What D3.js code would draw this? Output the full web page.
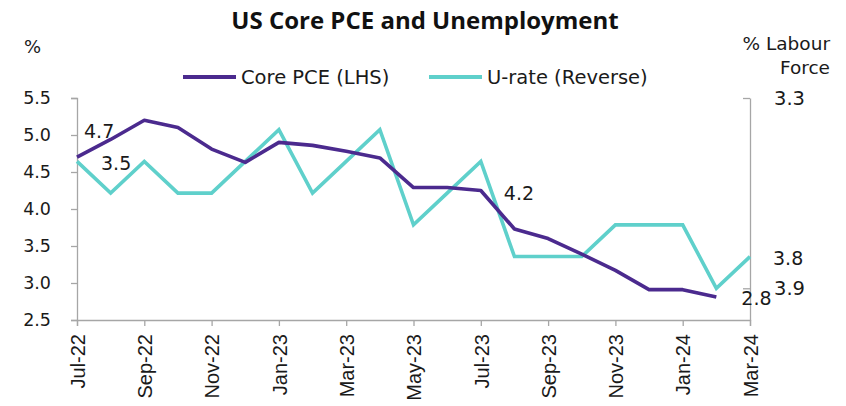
<!DOCTYPE html>
<html>
<head>
<meta charset="utf-8">
<script src="https://cdn.jsdelivr.net/npm/d3@7"></script>
<style>
  html, body { margin: 0; padding: 0; background: #fff; }
</style>
</head>
<body>
<div id="chart"></div>
<script>
// monthly data, Jul-22 .. Mar-24
const months = ["Jul-22","Aug-22","Sep-22","Oct-22","Nov-22","Dec-22","Jan-23","Feb-23","Mar-23","Apr-23",
  "May-23","Jun-23","Jul-23","Aug-23","Sep-23","Oct-23","Nov-23","Dec-23","Jan-24","Feb-24","Mar-24"];
const corePce = [4.7, 4.94, 5.2, 5.1, 4.81, 4.63, 4.9, 4.86, 4.78, 4.69,
  4.29, 4.29, 4.25, 3.73, 3.6, 3.39, 3.17, 2.91, 2.91, 2.81, null];
const uRate = [3.5, 3.6, 3.5, 3.6, 3.6, 3.5, 3.4, 3.6, 3.5, 3.4,
  3.7, 3.6, 3.5, 3.8, 3.8, 3.8, 3.7, 3.7, 3.7, 3.9, 3.8];
const leftTicks = [2.5, 3.0, 3.5, 4.0, 4.5, 5.0, 5.5];
const rightTicks = [3.3, 3.9];
const tickMonths = months.filter((_, i) => i % 2 === 0);

const width = 846, height = 406;
const margin = { top: 98, right: 96, bottom: 86, left: 77 };
const PURPLE = "#4b2a8e", CYAN = "#5fd0cb", AXIS = "#a6a6a6", INK = "#1a1a1a";
const FONT = "'DejaVu Sans'";

const svg = d3.select("#chart").append("svg")
  .attr("width", width).attr("height", height)
  .attr("font-family", FONT);

const x = d3.scalePoint().domain(months).range([margin.left, width - margin.right]);
const yL = d3.scaleLinear().domain([2.5, 5.5]).range([height - margin.bottom, margin.top]);
const yR = d3.scaleLinear().domain([3.3, 4.0]).range([margin.top, height - margin.bottom]);

// title + unit labels
svg.append("text").attr("x", 425).attr("y", 29).attr("text-anchor", "middle")
  .attr("font-family", "'Open Sans'").attr("fill", "#111")
  .style("font-size", "24px").style("font-weight", 700).text("US Core PCE and Unemployment");
svg.append("text").attr("x", 24).attr("y", 53).attr("fill", INK)
  .style("font-size", "18px").text("%");
svg.append("text").attr("x", 830).attr("y", 50).attr("text-anchor", "end").attr("fill", INK)
  .style("font-size", "18.5px").text("% Labour");
svg.append("text").attr("x", 830).attr("y", 74).attr("text-anchor", "end").attr("fill", INK)
  .style("font-size", "18.5px").text("Force");

// legend
const legend = [
  { name: "Core PCE (LHS)", color: PURPLE, x: 183 },
  { name: "U-rate (Reverse)", color: CYAN, x: 429 }
];
legend.forEach(d => {
  svg.append("line").attr("x1", d.x).attr("x2", d.x + 53).attr("y1", 77).attr("y2", 77)
    .attr("stroke", d.color).attr("stroke-width", 4);
  svg.append("text").attr("x", d.x + 58).attr("y", 84).attr("fill", INK)
    .style("font-size", "19.5px").text(d.name);
});

// axes
const axisStyle = (g, size) => {
  g.attr("font-family", FONT);
  g.selectAll(".domain, line").attr("stroke", AXIS).attr("stroke-width", 1.3);
  g.selectAll("text").style("font-size", size).attr("fill", INK);
};

svg.append("g").attr("transform", `translate(${margin.left},0)`)
  .call(d3.axisLeft(yL).tickValues(leftTicks).tickFormat(d3.format(".1f")).tickSizeOuter(0).tickSize(6).tickPadding(20))
  .call(axisStyle, "17.5px");

svg.append("g").attr("transform", `translate(${width - margin.right},0)`)
  .call(d3.axisRight(yR).tickValues(rightTicks).tickFormat(d3.format(".1f")).tickSizeOuter(0).tickSize(0).tickPadding(24))
  .call(axisStyle, "19.5px")
  .call(g => g.selectAll(".tick").append("line").attr("x2", -7).attr("stroke", AXIS).attr("stroke-width", 1.3));

svg.append("g").attr("transform", `translate(0,${height - margin.bottom})`)
  .call(d3.axisBottom(x).tickValues(tickMonths).tickSizeOuter(0).tickSize(6).tickPadding(0))
  .call(axisStyle, "20px")
  .call(g => g.selectAll("text")
    .attr("font-family", "'Liberation Sans'")
    .attr("text-anchor", "end")
    .attr("transform", "rotate(-90)")
    .attr("x", -14).attr("y", 0).attr("dy", "0.36em"));

// lines
const pceLine = d3.line().defined(d => d[1] != null).x(d => x(d[0])).y(d => yL(d[1]));
const uLine = d3.line().x(d => x(d[0])).y(d => yR(d[1]));

svg.append("path").datum(months.map((m, i) => [m, uRate[i]]))
  .attr("d", uLine).attr("fill", "none").attr("stroke", CYAN).attr("stroke-width", 3.6)
  .attr("stroke-linejoin", "miter");
svg.append("path").datum(months.map((m, i) => [m, corePce[i]]))
  .attr("d", pceLine).attr("fill", "none").attr("stroke", PURPLE).attr("stroke-width", 3.6)
  .attr("stroke-linejoin", "round");

// data labels
const labels = [
  { m: "Jul-22", v: 4.7, y: yL, dx: 7, dy: -19 },
  { m: "Jul-22", v: 3.5, y: yR, dx: 24, dy: 9 },
  { m: "Jul-23", v: 4.2, y: yL, dx: 23, dy: 9.5, at: 4.25 },
  { m: "Feb-24", v: 2.8, y: yL, dx: 25, dy: 8, at: 2.81 },
  { m: "Mar-24", v: 3.8, y: yR, dx: 23, dy: 8.5 }
];
svg.append("g").selectAll("text").data(labels).join("text")
  .attr("x", d => x(d.m) + d.dx)
  .attr("y", d => d.y(d.at ?? d.v) + d.dy)
  .attr("fill", INK)
  .style("font-size", "19px")
  .text(d => d.v.toFixed(1));
</script>
</body>
</html>
